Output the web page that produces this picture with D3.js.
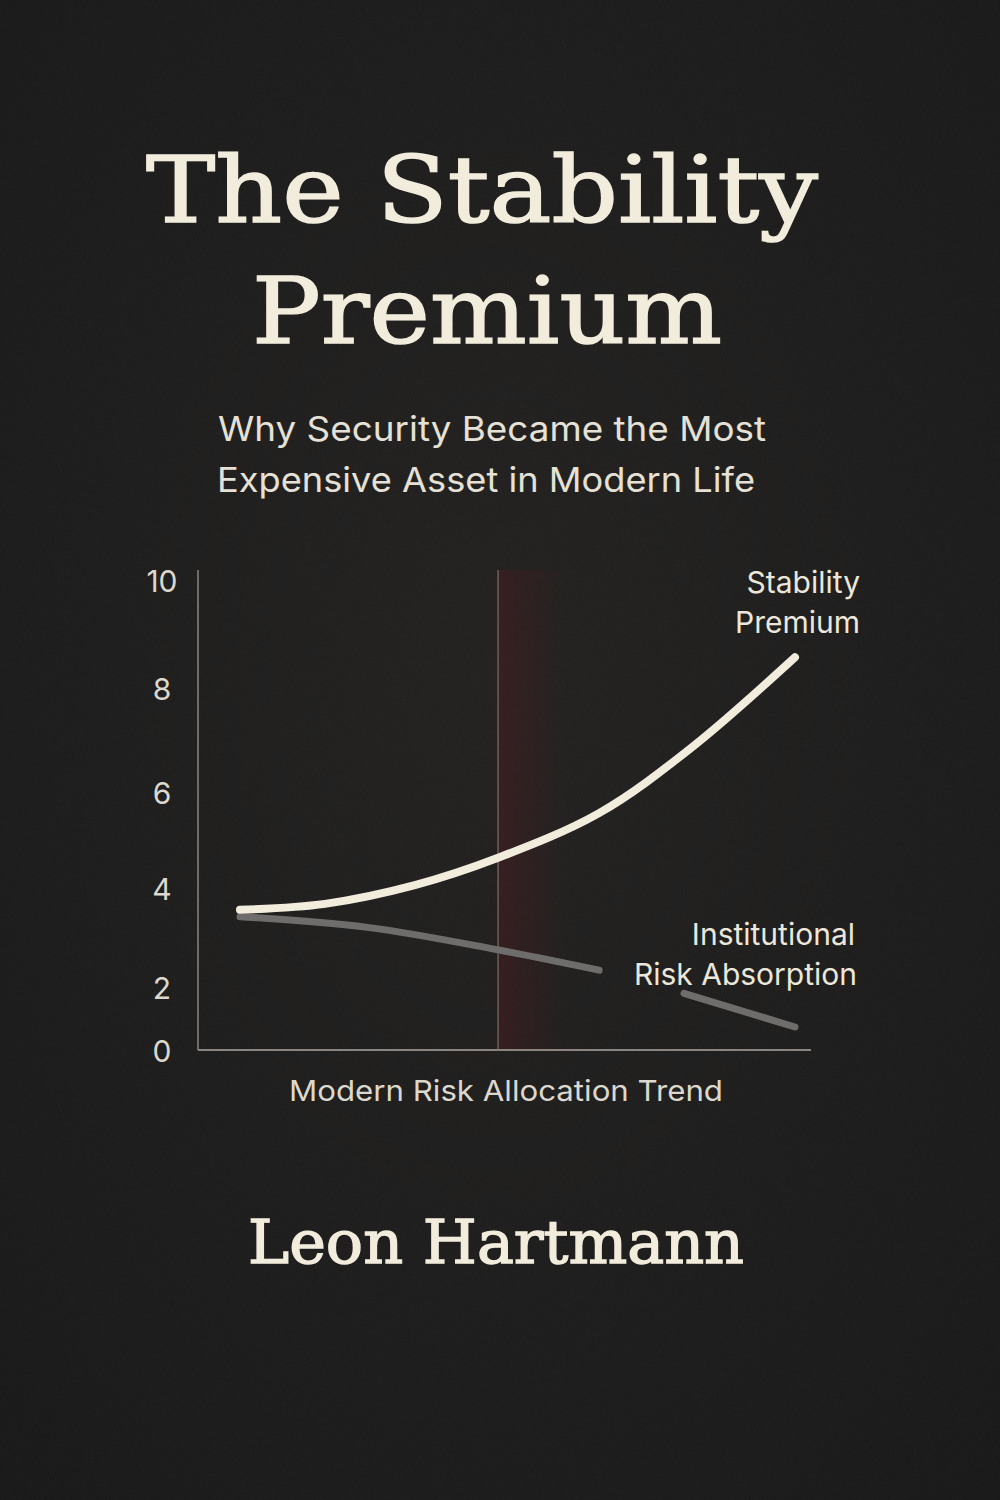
<!DOCTYPE html>
<html><head><meta charset="utf-8">
<script src="https://cdn.jsdelivr.net/npm/d3@7"></script>
<style>html,body{margin:0;padding:0;background:#1b1a19;}svg{display:block}</style>
</head><body>
<script>
const yTicks = [0, 2, 4, 6, 8, 10];
const premiumX = [0, 1.53, 3.15, 4.65, 6.47, 8.13, 10];
const premiumY = [3.56, 3.68, 4.06, 4.63, 5.56, 6.85, 8.57];
const absorbX = [0, 2.33, 4.65, 6.47, 7.3, 8.0, 10];
const absorbY = [3.42, 3.2, 2.75, 2.34, null, 1.8, 0.73];
const markerX = 4.65;

const W = 1000, H = 1500;
const svg = d3.select("body").append("svg").attr("width", W).attr("height", H);
const defs = svg.append("defs");
const f = defs.append("filter").attr("id", "noise").attr("x", 0).attr("y", 0).attr("width", "100%").attr("height", "100%");
f.append("feTurbulence").attr("type", "fractalNoise").attr("baseFrequency", 1.2).attr("numOctaves", 2).attr("result", "n");
f.append("feColorMatrix").attr("type", "matrix").attr("values", "0 0 0 0 1  0 0 0 0 1  0 0 0 0 1  0 0 0 0.05 0");
const rg = defs.append("linearGradient").attr("id", "glow");
rg.append("stop").attr("offset", "0%").attr("stop-color", "#4a1c20").attr("stop-opacity", 0.5);
rg.append("stop").attr("offset", "100%").attr("stop-color", "#4a1c20").attr("stop-opacity", 0);
const vg = defs.append("radialGradient").attr("id", "vig").attr("cx", "50%").attr("cy", "45%").attr("r", "75%");
vg.append("stop").attr("offset", "0%").attr("stop-color", "#1f1e1d");
vg.append("stop").attr("offset", "100%").attr("stop-color", "#161515");

svg.append("rect").attr("width", W).attr("height", H).attr("fill", "url(#vig)");
svg.append("rect").attr("width", W).attr("height", H).attr("filter", "url(#noise)");

const cream = "#f2ecdc";
const serif = "'DejaVu Serif', serif";
const sans = "Inter, 'Noto Sans', sans-serif";

const title = (t, xx, yy, len) => svg.append("text").attr("x", xx).attr("y", yy).attr("text-anchor", "middle")
  .attr("font-family", serif).attr("font-size", 92).attr("fill", cream).attr("stroke", cream).attr("stroke-width", 1.6)
  .attr("textLength", len).attr("lengthAdjust", "spacingAndGlyphs").text(t);
title("The Stability", 482, 222, 672);
title("Premium", 487, 343, 470);

svg.append("text").attr("x", 492).attr("y", 441).attr("text-anchor", "middle")
  .attr("font-family", sans).attr("font-size", 34).attr("fill", "#e6e1d6")
  .attr("textLength", 548).attr("lengthAdjust", "spacingAndGlyphs").text("Why Security Became the Most");
svg.append("text").attr("x", 486).attr("y", 492).attr("text-anchor", "middle")
  .attr("font-family", sans).attr("font-size", 34).attr("fill", "#e6e1d6")
  .attr("textLength", 538).attr("lengthAdjust", "spacingAndGlyphs").text("Expensive Asset in Modern Life");

const x = d3.scaleLinear().domain([0, 10]).range([240, 795]);
const y = d3.scaleLinear().domain(yTicks).range([1050, 987, 888, 792, 688, 580]);

svg.append("rect").attr("x", x(markerX)).attr("y", 570).attr("width", 70).attr("height", 480).attr("fill", "url(#glow)");

svg.append("line").attr("x1", 198).attr("x2", 198).attr("y1", 570).attr("y2", 1050).attr("stroke", "#8a8580").attr("stroke-width", 1.5);
svg.append("line").attr("x1", 198).attr("x2", 811).attr("y1", 1050).attr("y2", 1050).attr("stroke", "#8a8580").attr("stroke-width", 2);
svg.append("line").attr("x1", x(markerX)).attr("x2", x(markerX)).attr("y1", 570).attr("y2", 1050).attr("stroke", "#7d6e6e").attr("stroke-width", 1.2);

svg.selectAll(".yt").data(yTicks).enter().append("text")
  .attr("x", 162).attr("y", d => y(d) + 12).attr("text-anchor", "middle")
  .attr("font-family", sans).attr("font-size", 30).attr("fill", "#ddd8cd").text(d => d);

const line = d3.line().defined(d => d[1] != null).x(d => x(d[0])).y(d => y(d[1])).curve(d3.curveCatmullRom);
svg.append("path").datum(absorbX.map((v, i) => [v, absorbY[i]])).attr("d", line)
  .attr("fill", "none").attr("stroke", "#6f6d6b").attr("stroke-width", 7).attr("stroke-linecap", "round");
svg.append("path").datum(premiumX.map((v, i) => [v, premiumY[i]])).attr("d", line)
  .attr("fill", "none").attr("stroke", cream).attr("stroke-width", 8).attr("stroke-linecap", "round");

const lab = (t, xx, yy) => svg.append("text").attr("x", xx).attr("y", yy).attr("text-anchor", "end")
  .attr("font-family", sans).attr("font-size", 30).attr("fill", "#ece7db").text(t);
lab("Stability", 860, 593); lab("Premium", 860, 633);
lab("Institutional", 855, 945); lab("Risk Absorption", 857, 985);

svg.append("text").attr("x", 506).attr("y", 1101).attr("text-anchor", "middle")
  .attr("font-family", sans).attr("font-size", 29).attr("fill", "#ddd8cd")
  .attr("textLength", 434).attr("lengthAdjust", "spacingAndGlyphs").text("Modern Risk Allocation Trend");

svg.append("text").attr("x", 496).attr("y", 1263).attr("text-anchor", "middle")
  .attr("font-family", serif).attr("font-size", 60).attr("fill", cream)
  .attr("textLength", 496).attr("lengthAdjust", "spacingAndGlyphs").attr("stroke", cream).attr("stroke-width", 1.4)
  .text("Leon Hartmann");
</script>
</body></html>
